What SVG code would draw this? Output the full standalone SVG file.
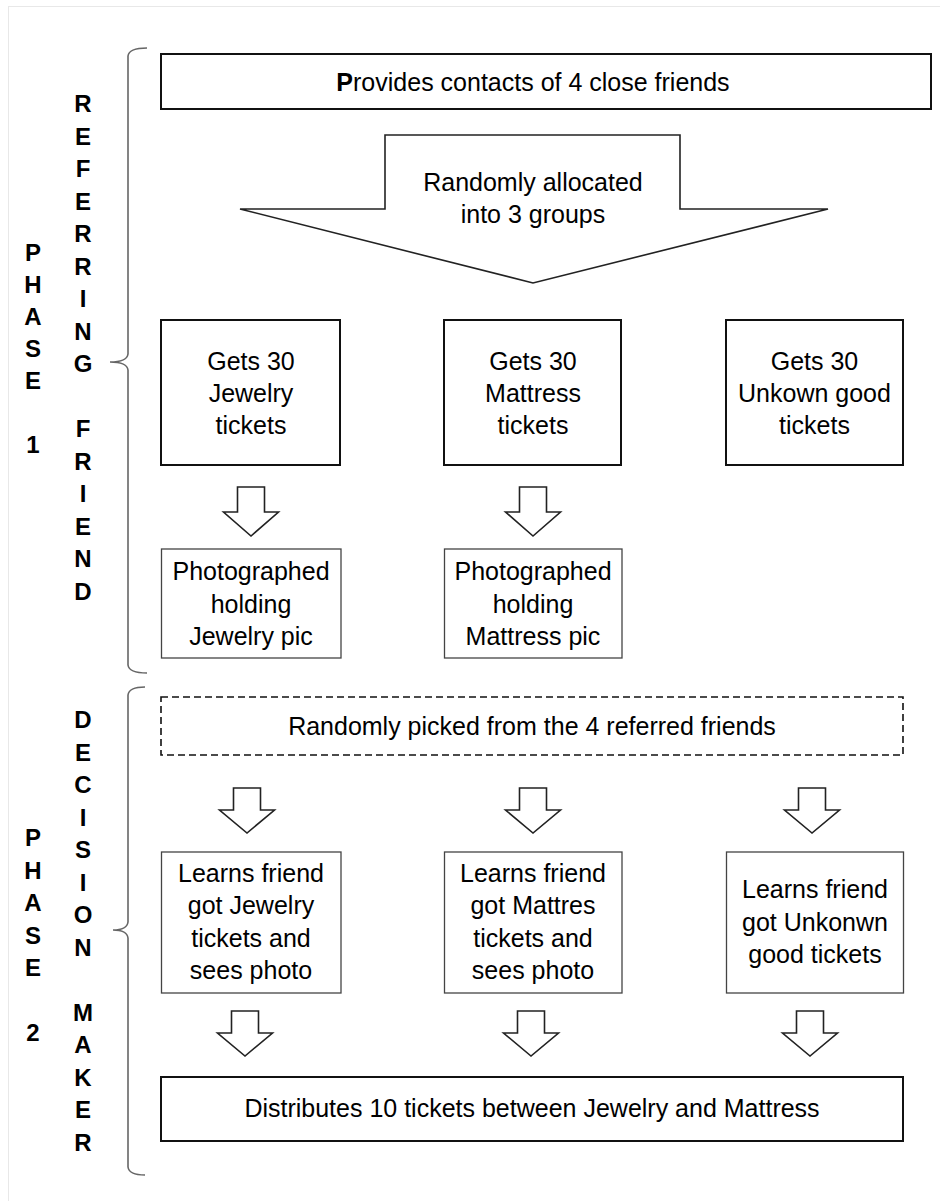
<svg xmlns="http://www.w3.org/2000/svg" width="940" height="1201" viewBox="0 0 940 1201">
<style>
  text { font-family: "Liberation Sans", Arial, sans-serif; font-size: 25px; fill: #000; text-anchor: middle; }
  .v { font-weight: bold; font-size: 24px; }
  .thick { fill: #fff; stroke: #111; stroke-width: 2; }
  .thin { fill: #fff; stroke: #444; stroke-width: 1.3; }
  .dash { fill: #fff; stroke: #111; stroke-width: 1.6; stroke-dasharray: 7 4; }
  .arr { fill: #fff; stroke: #222; stroke-width: 1.6; stroke-linejoin: miter; }
  .brace { fill: none; stroke: #666; stroke-width: 1.6; }
</style>
<rect x="0" y="0" width="940" height="1201" fill="#fff"/>
<rect x="8.5" y="6.5" width="1000" height="1300" fill="none" stroke="#e8e8e8" stroke-width="1"/>

<g id="labels">
  <g id="phase1-label">
    <text class="v" x="33" y="261">P</text>
    <text class="v" x="33" y="293">H</text>
    <text class="v" x="33" y="325">A</text>
    <text class="v" x="33" y="357">S</text>
    <text class="v" x="33" y="389">E</text>
    <text class="v" x="33" y="453">1</text>
  </g>
  <g id="referring-friend-label">
    <text class="v" x="83" y="112">R</text>
    <text class="v" x="83" y="144.5">E</text>
    <text class="v" x="83" y="177">F</text>
    <text class="v" x="83" y="209.5">E</text>
    <text class="v" x="83" y="242">R</text>
    <text class="v" x="83" y="274.5">R</text>
    <text class="v" x="83" y="307">I</text>
    <text class="v" x="83" y="339.5">N</text>
    <text class="v" x="83" y="372">G</text>
    <text class="v" x="83" y="437">F</text>
    <text class="v" x="83" y="469.5">R</text>
    <text class="v" x="83" y="502">I</text>
    <text class="v" x="83" y="534.5">E</text>
    <text class="v" x="83" y="567">N</text>
    <text class="v" x="83" y="599.5">D</text>
  </g>
  <g id="phase2-label">
    <text class="v" x="33" y="846">P</text>
    <text class="v" x="33" y="878.5">H</text>
    <text class="v" x="33" y="911">A</text>
    <text class="v" x="33" y="943.5">S</text>
    <text class="v" x="33" y="976">E</text>
    <text class="v" x="33" y="1041">2</text>
  </g>
  <g id="decision-maker-label">
    <text class="v" x="83" y="728">D</text>
    <text class="v" x="83" y="760.5">E</text>
    <text class="v" x="83" y="793">C</text>
    <text class="v" x="83" y="825.5">I</text>
    <text class="v" x="83" y="858">S</text>
    <text class="v" x="83" y="890.5">I</text>
    <text class="v" x="83" y="923">O</text>
    <text class="v" x="83" y="955.5">N</text>
    <text class="v" x="83" y="1020.5">M</text>
    <text class="v" x="83" y="1053">A</text>
    <text class="v" x="83" y="1085.5">K</text>
    <text class="v" x="83" y="1118">E</text>
    <text class="v" x="83" y="1150.5">R</text>
  </g>
</g>

<g id="braces">
  <path class="brace" d="M147,48 Q129,48 128,56 V354 Q127,362 110,362 Q127,362 128,370 V665 Q129,673 147,673"/>
  <path class="brace" d="M145,687 Q129,687 128,695 V922 Q127,930 113,930 Q127,930 128,938 V1167 Q129,1175 145,1175"/>
</g>

<g id="connectors">
  <path class="arr" d="M237.5,487 H264.5 V512 H278.5 L251,536 L223.5,512 H237.5 Z"/>
  <path class="arr" d="M519.5,487 H546.5 V512 H560.5 L533,536 L505.5,512 H519.5 Z"/>
  <path class="arr" d="M233.5,788 H260.5 V810 H274.5 L247,833 L219.5,810 H233.5 Z"/>
  <path class="arr" d="M519.5,788 H546.5 V810 H560.5 L533,833 L505.5,810 H519.5 Z"/>
  <path class="arr" d="M798.5,788 H825.5 V810 H839.5 L812,833 L784.5,810 H798.5 Z"/>
  <path class="arr" d="M231.5,1011 H258.5 V1033 H272.5 L245,1056 L217.5,1033 H231.5 Z"/>
  <path class="arr" d="M517.5,1011 H544.5 V1033 H558.5 L531,1056 L503.5,1033 H517.5 Z"/>
  <path class="arr" d="M796.5,1011 H823.5 V1033 H837.5 L810,1056 L782.5,1033 H796.5 Z"/>
</g>

<g id="provides-contacts">
  <rect class="thick" x="161" y="54" width="770" height="55"/>
  <text x="533" y="91"><tspan font-weight="bold">P</tspan>rovides contacts of 4 close friends</text>
</g>

<g id="random-allocation">
  <polygon class="arr" points="385,135 680,135 680,209 828,209 533,283 240,209 385,209"/>
  <text x="533" y="191">Randomly allocated</text>
  <text x="533" y="223">into 3 groups</text>
</g>

<g id="gets-jewelry">
  <rect class="thick" x="161" y="320" width="179" height="145"/>
  <text x="251" y="370">Gets 30</text>
  <text x="251" y="402">Jewelry</text>
  <text x="251" y="434">tickets</text>
</g>
<g id="gets-mattress">
  <rect class="thick" x="444" y="320" width="177" height="145"/>
  <text x="533" y="370">Gets 30</text>
  <text x="533" y="402">Mattress</text>
  <text x="533" y="434">tickets</text>
</g>
<g id="gets-unknown">
  <rect class="thick" x="726" y="320" width="177" height="145"/>
  <text x="814.5" y="370">Gets 30</text>
  <text x="814.5" y="402">Unkown good</text>
  <text x="814.5" y="434">tickets</text>
</g>

<g id="photo-jewelry">
  <rect class="thin" x="161.5" y="549" width="179.5" height="109"/>
  <text x="251" y="580">Photographed</text>
  <text x="251" y="612.5">holding</text>
  <text x="251" y="645">Jewelry pic</text>
</g>
<g id="photo-mattress">
  <rect class="thin" x="444.5" y="549" width="177.5" height="109"/>
  <text x="533" y="580">Photographed</text>
  <text x="533" y="612.5">holding</text>
  <text x="533" y="645">Mattress pic</text>
</g>

<g id="randomly-picked">
  <rect class="dash" x="161" y="697" width="742" height="58"/>
  <text x="532" y="735">Randomly picked from the 4 referred friends</text>
</g>

<g id="learns-jewelry">
  <rect class="thin" x="161.5" y="852" width="179.5" height="141"/>
  <text x="251" y="882">Learns friend</text>
  <text x="251" y="914">got Jewelry</text>
  <text x="251" y="946.5">tickets and</text>
  <text x="251" y="978.5">sees photo</text>
</g>
<g id="learns-mattress">
  <rect class="thin" x="444.5" y="852" width="177.5" height="141"/>
  <text x="533" y="882">Learns friend</text>
  <text x="533" y="914">got Mattres</text>
  <text x="533" y="946.5">tickets and</text>
  <text x="533" y="978.5">sees photo</text>
</g>
<g id="learns-unknown">
  <rect class="thin" x="726.5" y="852" width="177" height="141"/>
  <text x="815" y="898">Learns friend</text>
  <text x="815" y="930.5">got Unkonwn</text>
  <text x="815" y="963">good tickets</text>
</g>

<g id="distributes">
  <rect class="thick" x="161" y="1077" width="742" height="64"/>
  <text x="532" y="1117">Distributes 10 tickets between Jewelry and Mattress</text>
</g>
</svg>
